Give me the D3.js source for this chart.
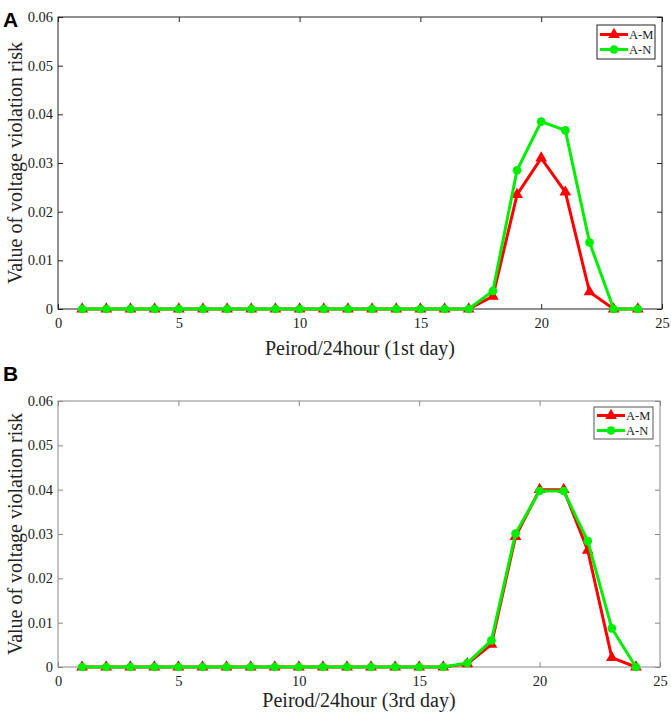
<!DOCTYPE html>
<html>
<head>
<meta charset="utf-8">
<script src="https://cdn.jsdelivr.net/npm/d3@7"></script>
<style>
  body { margin: 0; background: #fff; }
  svg text { font-family: "Liberation Serif", "Times New Roman", serif; fill: #222; }
  .panel-label { font-family: "Liberation Sans", Arial, sans-serif; font-weight: bold; fill: #000; }
</style>
</head>
<body>
<svg id="chart" width="671" height="713"></svg>
<script>
const periods = d3.range(1, 25);

// day 1 (panel A)
const day1M = [0, 0, 0, 0, 0, 0, 0, 0, 0, 0, 0, 0, 0, 0, 0, 0, 0, 0.0026, 0.0235, 0.0310, 0.0240, 0.0035, 0, 0];
const day1N = [0, 0, 0, 0, 0, 0, 0, 0, 0, 0, 0, 0, 0, 0, 0, 0, 0, 0.0037, 0.0285, 0.0385, 0.0367, 0.0137, 0, 0];

// day 3 (panel B)
const day3M = [0, 0, 0, 0, 0, 0, 0, 0, 0, 0, 0, 0, 0, 0, 0, 0, 0.0007, 0.0051, 0.0294, 0.0400, 0.0400, 0.0263, 0.0021, 0];
const day3N = [0, 0, 0, 0, 0, 0, 0, 0, 0, 0, 0, 0, 0, 0, 0, 0, 0.0009, 0.0060, 0.0301, 0.0397, 0.0397, 0.0284, 0.0087, 0];

const xTicks = [0, 5, 10, 15, 20, 25];
const yTicks = [0, 0.01, 0.02, 0.03, 0.04, 0.05, 0.06];
const seriesNames = ['A-M', 'A-N'];
const seriesColors = ['#ff0000', '#00ee00'];

const svg = d3.select('#chart');

const panels = [
  { label: 'A', labelY: 27, box: { x0: 58, x1: 662, y0: 17, y1: 309 }, axisColor: '#222', legendStroke: '#222',
    xTitle: 'Peirod/24hour (1st day)', xTitleY: 355, series: [day1M, day1N],
    legend: { x: 597, y: 25, w: 58, h: 34 } },
  { label: 'B', labelY: 381, box: { x0: 58, x1: 660, y0: 401, y1: 667 }, axisColor: '#888', legendStroke: '#555',
    xTitle: 'Peirod/24hour (3rd day)', xTitleY: 707, series: [day3M, day3N],
    legend: { x: 594, y: 407, w: 59, h: 32 } }
];

const triangle = d3.symbol().type(d3.symbolTriangle).size(60);
const circle = d3.symbol().type(d3.symbolCircle).size(60);
const markers = [triangle, circle];

panels.forEach(p => {
  const b = p.box;
  const g = svg.append('g');

  const x = d3.scaleLinear().domain([0, 25]).range([b.x0, b.x1]);
  const y = d3.scaleLinear().domain([0, 0.06]).range([b.y1, b.y0]);

  g.append('text').attr('class', 'panel-label')
    .attr('x', 3).attr('y', p.labelY)
    .style('font-size', '21px')
    .text(p.label);

  // frame
  g.append('rect')
    .attr('x', b.x0).attr('y', b.y0)
    .attr('width', b.x1 - b.x0).attr('height', b.y1 - b.y0)
    .attr('fill', 'none').attr('stroke', p.axisColor).attr('stroke-width', 1);

  // inward ticks on all four sides
  const tickLen = 5;
  const xAxis = g.append('g').attr('transform', `translate(0,${b.y1})`)
    .call(d3.axisBottom(x).tickValues(xTicks).tickSizeInner(-tickLen).tickSizeOuter(0).tickPadding(9).tickFormat(d3.format('d')));
  const xAxisTop = g.append('g').attr('transform', `translate(0,${b.y0})`)
    .call(d3.axisTop(x).tickValues(xTicks).tickSizeInner(-tickLen).tickSizeOuter(0).tickFormat(''));
  const yAxis = g.append('g').attr('transform', `translate(${b.x0},0)`)
    .call(d3.axisLeft(y).tickValues(yTicks).tickSizeInner(-tickLen).tickSizeOuter(0).tickPadding(5)
      .tickFormat(d => d === 0 ? '0' : d3.format('.2f')(d)));
  const yAxisRight = g.append('g').attr('transform', `translate(${b.x1},0)`)
    .call(d3.axisRight(y).tickValues(yTicks).tickSizeInner(-tickLen).tickSizeOuter(0).tickFormat(''));

  [xAxis, xAxisTop, yAxis, yAxisRight].forEach(a => {
    a.select('.domain').remove();
    a.selectAll('line').attr('stroke', p.axisColor);
    a.selectAll('text').style('font-size', '14.5px')
      .style('font-family', '"Liberation Serif", "Times New Roman", serif').attr('fill', '#222');
  });

  // axis titles
  g.append('text')
    .attr('x', (b.x0 + b.x1) / 2).attr('y', p.xTitleY)
    .attr('text-anchor', 'middle').style('font-size', '20px')
    .text(p.xTitle);
  g.append('text')
    .attr('transform', `translate(22,${(b.y0 + b.y1) / 2}) rotate(-90)`)
    .attr('text-anchor', 'middle').style('font-size', '20px')
    .text('Value of voltage violation risk');

  const line = d3.line().x((d, i) => x(periods[i])).y(d => y(d));

  p.series.forEach((vals, si) => {
    g.append('path').datum(vals)
      .attr('d', line)
      .attr('fill', 'none')
      .attr('stroke', seriesColors[si])
      .attr('stroke-width', 3)
      .attr('stroke-linejoin', 'miter');
    g.selectAll(null).data(vals).enter().append('path')
      .attr('d', markers[si])
      .attr('transform', (d, i) => `translate(${x(periods[i])},${y(d)})`)
      .attr('fill', seriesColors[si]);
  });

  // legend
  const L = p.legend;
  const lg = g.append('g');
  lg.append('rect')
    .attr('x', L.x).attr('y', L.y).attr('width', L.w).attr('height', L.h)
    .attr('fill', '#fff').attr('stroke', p.legendStroke).attr('stroke-width', 1);
  seriesNames.forEach((name, si) => {
    const ry = L.y + L.h / 2 + (si === 0 ? -7.5 : 7.5);
    lg.append('line')
      .attr('x1', L.x + 3).attr('x2', L.x + 31).attr('y1', ry).attr('y2', ry)
      .attr('stroke', seriesColors[si]).attr('stroke-width', 3);
    lg.append('path')
      .attr('d', markers[si])
      .attr('transform', `translate(${L.x + 17},${ry})`)
      .attr('fill', seriesColors[si]);
    lg.append('text')
      .attr('x', L.x + 32).attr('y', ry + 4.5)
      .style('font-size', '12.5px')
      .text(name);
  });
});
</script>
</body>
</html>
